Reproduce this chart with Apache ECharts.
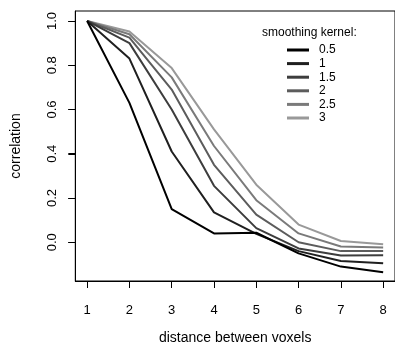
<!DOCTYPE html>
<html>
<head>
<meta charset="utf-8">
<script src="https://cdn.jsdelivr.net/npm/echarts@6/dist/echarts.min.js"></script>
<style>html,body{margin:0;padding:0;background:#fff}#c{width:395px;height:350px}</style>
</head>
<body>
<div id="c"></div>
<script>
var distances = [1, 2, 3, 4, 5, 6, 7, 8];
var kernelNames = ['0.5', '1', '1.5', '2', '2.5', '3'];
var k05 = [1.0, 0.63, 0.15, 0.04, 0.043, -0.05, -0.11, -0.135];
var k1  = [1.0, 0.83, 0.41, 0.135, 0.038, -0.04, -0.085, -0.095];
var k15 = [1.0, 0.90, 0.60, 0.255, 0.064, -0.028, -0.06, -0.059];
var k2  = [1.0, 0.925, 0.69, 0.35, 0.125, 0.0, -0.04, -0.04];
var k25 = [1.0, 0.94, 0.745, 0.435, 0.19, 0.04, -0.019, -0.024];
var k3  = [1.0, 0.952, 0.787, 0.51, 0.26, 0.08, 0.006, -0.009];
var xTicks = [1, 2, 3, 4, 5, 6, 7, 8];
var yTicks = [0, 0.2, 0.4, 0.6, 0.8, 1.0];

var allSeries = [k05, k1, k15, k2, k25, k3];
var colors = ['#000000', '#1f1f1f', '#3d3d3d', '#5c5c5c', '#7a7a7a', '#999999'];
var FONT = '"Liberation Sans", Arial, sans-serif';
var GRID_LEFT = 75.3;

var chart = echarts.init(document.getElementById('c'), null, {renderer: 'canvas'});
chart.setOption({
  animation: false,
  color: colors,
  title: {
    text: 'smoothing kernel:',
    left: 262, top: 26.5, padding: 0,
    textStyle: {fontSize: 12, fontWeight: 'normal', color: '#000', fontFamily: FONT}
  },
  legend: {
    orient: 'vertical',
    left: 287, top: 43.5,
    padding: 0,
    icon: 'rect',
    itemWidth: 22, itemHeight: 3, itemGap: 0.6,
    data: kernelNames,
    textStyle: {fontSize: 12, color: '#000', fontFamily: FONT, lineHeight: 13, padding: [0, 0, 0, 5]}
  },
  grid: {
    left: GRID_LEFT, top: 11, width: 325, bottom: 66.7,
    show: true, borderColor: '#000', borderWidth: 1, backgroundColor: 'transparent'
  },
  xAxis: {
    type: 'value', min: 0.72, max: 8.28,
    name: 'distance between voxels', nameLocation: 'middle', nameGap: 50,
    nameTextStyle: {fontSize: 14, color: '#000', fontFamily: FONT},
    axisLine: {show: true, onZero: false, lineStyle: {color: '#000', width: 1}},
    splitLine: {show: false},
    axisTick: {show: true, length: 7, inside: false, customValues: xTicks, lineStyle: {color: '#000'}},
    axisLabel: {customValues: xTicks, margin: 23, fontSize: 13, color: '#000', fontFamily: FONT,
      formatter: function (v) { return String(v); }}
  },
  yAxis: {
    type: 'value', min: -0.175, max: 1.045,
    name: 'correlation', nameLocation: 'middle', nameGap: 52,
    nameTextStyle: {fontSize: 14, color: '#000', fontFamily: FONT},
    axisLine: {show: true, onZero: false, lineStyle: {color: '#000', width: 1}},
    splitLine: {show: false},
    axisTick: {show: true, length: 7, inside: false, customValues: yTicks, lineStyle: {color: '#000', width: 1}},
    axisLabel: {show: true, customValues: yTicks, rotate: 90, margin: 16, fontSize: 13, color: '#000', fontFamily: FONT,
      formatter: function (v) { return v.toFixed(1); }}
  },
  series: allSeries.map(function (vals, i) {
    return {
      name: kernelNames[i],
      type: 'line',
      symbol: 'none',
      lineStyle: {width: 2, color: colors[i]},
      itemStyle: {color: colors[i]},
      data: distances.map(function (d, j) { return [d, vals[j]]; }),
      z: 10 - i
    };
  })
});

// y-axis tick marks placed through the axis scale (axisTick does not draw on this y axis)
var tickGraphics = yTicks.map(function (v) {
  var py = Math.round(chart.convertToPixel({yAxisIndex: 0}, v)) + 0.5;
  return {
    type: 'line',
    shape: {x1: GRID_LEFT - 7, y1: py, x2: GRID_LEFT, y2: py},
    style: {stroke: '#000', lineWidth: 1},
    silent: true
  };
});
chart.setOption({graphic: tickGraphics});
</script>
</body>
</html>
